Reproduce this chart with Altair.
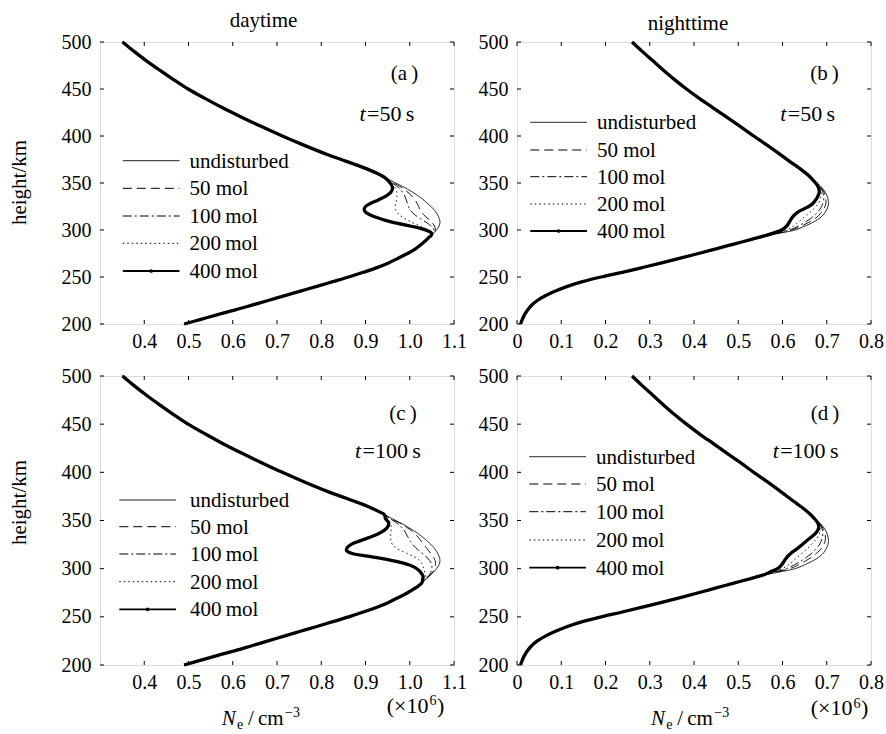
import altair as alt
import pandas as pd

FONT = "Liberation Serif"
INK = "#000000"
FRAME = "#000000"

SERIES = ["undisturbed", "50 mol", "100\u2009mol", "200\u2009mol", "400\u2009mol"]
DASHES = [[1, 0], [9, 5], [9, 3, 2, 3], [1.5, 3]]

Y_TICKS = [200, 250, 300, 350, 400, 450, 500]
X_TICKS_DAY = [0.4, 0.5, 0.6, 0.7, 0.8, 0.9, 1.0, 1.1]
X_TICKS_NIGHT = [0.0, 0.1, 0.2, 0.3, 0.4, 0.5, 0.6, 0.7, 0.8]

# ---------------- daytime profile (x 1e6 cm^-3) ----------------
DAY_UP_H = [500, 490, 480, 470, 460, 450, 440, 430, 420, 410, 400, 390, 380, 375, 370, 365, 360, 356]
DAY_UP_V = [0.351, 0.377, 0.405, 0.435, 0.466, 0.499, 0.537, 0.577, 0.620, 0.665, 0.712, 0.762,
            0.815, 0.845, 0.875, 0.903, 0.927, 0.943]
DAY_MID_H = [352, 348, 344, 340, 336, 332, 328, 325, 322, 319, 316, 313, 310, 307, 304, 301, 298,
             296, 294, 292, 290, 288]
DAY_UNDIST = [0.960, 0.977, 0.993, 1.007, 1.020, 1.031, 1.041, 1.048, 1.054, 1.059, 1.063, 1.066,
              1.068, 1.068, 1.066, 1.062, 1.057, 1.053, 1.048, 1.044, 1.039, 1.034]
A_50 = [0.957, 0.972, 0.985, 0.996, 1.005, 1.012, 1.017, 1.020, 1.023, 1.027, 1.032, 1.039, 1.046,
        1.052, 1.056, 1.058, 1.056, 1.053, 1.048, 1.044, 1.039, 1.034]
A_100 = [0.955, 0.967, 0.977, 0.984, 0.989, 0.992, 0.995, 0.997, 1.000, 1.005, 1.012, 1.021, 1.031,
         1.041, 1.049, 1.054, 1.054, 1.051, 1.047, 1.043, 1.039, 1.034]
A_200 = [0.953, 0.962, 0.968, 0.971, 0.971, 0.970, 0.968, 0.967, 0.968, 0.971, 0.977, 0.986, 0.997,
         1.010, 1.024, 1.038, 1.048, 1.050, 1.047, 1.043, 1.039, 1.034]
A_400 = [0.952, 0.959, 0.961, 0.957, 0.946, 0.929, 0.910, 0.900, 0.897, 0.900, 0.911, 0.927, 0.947,
         0.973, 1.003, 1.030, 1.046, 1.050, 1.048, 1.043, 1.039, 1.034]
C_50 = [0.957, 0.975, 0.990, 1.002, 1.012, 1.020, 1.027, 1.032, 1.037, 1.042, 1.047, 1.052, 1.056,
        1.058, 1.058, 1.057, 1.054, 1.051, 1.047, 1.043, 1.039, 1.034]
C_100 = [0.955, 0.969, 0.979, 0.987, 0.992, 0.997, 1.002, 1.007, 1.013, 1.020, 1.028, 1.036, 1.042,
         1.047, 1.050, 1.050, 1.049, 1.047, 1.045, 1.041, 1.038, 1.034]
C_200 = [0.950, 0.956, 0.958, 0.958, 0.957, 0.957, 0.958, 0.961, 0.968, 0.979, 0.993, 1.007, 1.018,
         1.025, 1.029, 1.031, 1.033, 1.034, 1.035, 1.036, 1.036, 1.034]
C_400 = [0.945, 0.952, 0.951, 0.943, 0.928, 0.906, 0.882, 0.867, 0.859, 0.857, 0.868, 0.905, 0.945,
         0.975, 0.998, 1.012, 1.021, 1.025, 1.028, 1.030, 1.030, 1.029]
DAY_LOW_H = [285, 280, 275, 270, 265, 260, 255, 250, 245, 240, 235, 230, 225, 220, 215, 210, 205, 200]
DAY_LOW_V = [1.027, 1.013, 0.995, 0.974, 0.952, 0.926, 0.895, 0.862, 0.826, 0.790, 0.753, 0.716,
             0.680, 0.643, 0.606, 0.566, 0.528, 0.490]

# ---------------- nighttime profile ----------------
NIGHT_UP_H = [500, 490, 480, 470, 460, 450, 440, 430, 420, 410, 400, 390, 380, 370, 364, 358]
NIGHT_UP_V = [0.260, 0.283, 0.307, 0.331, 0.356, 0.383, 0.412, 0.443, 0.474, 0.505, 0.535, 0.566,
              0.596, 0.625, 0.643, 0.659]
NIGHT_MID_H = [352, 348, 344, 340, 336, 332, 328, 324, 320, 316, 312, 308, 304, 300, 297, 294]
NIGHT_UNDIST = [0.673, 0.683, 0.691, 0.697, 0.701, 0.703, 0.704, 0.702, 0.698, 0.692, 0.682, 0.668,
                0.650, 0.628, 0.598, 0.565]
B_50 = [0.673, 0.682, 0.689, 0.694, 0.697, 0.698, 0.698, 0.695, 0.690, 0.683, 0.673, 0.659, 0.642,
        0.621, 0.594, 0.564]
B_100 = [0.672, 0.681, 0.687, 0.691, 0.693, 0.693, 0.691, 0.687, 0.681, 0.673, 0.663, 0.650, 0.635,
         0.616, 0.591, 0.563]
B_200 = [0.672, 0.680, 0.685, 0.687, 0.687, 0.685, 0.681, 0.674, 0.665, 0.655, 0.645, 0.635, 0.624,
         0.609, 0.587, 0.562]
B_400 = [0.671, 0.678, 0.682, 0.683, 0.680, 0.675, 0.668, 0.655, 0.638, 0.627, 0.620, 0.615, 0.609,
         0.598, 0.581, 0.561]
D_50 = [0.673, 0.682, 0.689, 0.693, 0.696, 0.697, 0.696, 0.692, 0.686, 0.677, 0.666, 0.652, 0.636,
        0.617, 0.592, 0.564]
D_100 = [0.673, 0.681, 0.687, 0.690, 0.691, 0.690, 0.687, 0.682, 0.675, 0.666, 0.655, 0.642, 0.627,
         0.609, 0.587, 0.563]
D_200 = [0.672, 0.680, 0.684, 0.685, 0.683, 0.678, 0.671, 0.663, 0.654, 0.644, 0.634, 0.624, 0.614,
         0.600, 0.582, 0.562]
D_400 = [0.672, 0.679, 0.682, 0.680, 0.673, 0.663, 0.652, 0.642, 0.631, 0.619, 0.610, 0.604, 0.598,
         0.589, 0.574, 0.560]
NIGHT_LOW_H = [290, 285, 280, 275, 270, 265, 260, 255, 250, 245, 240, 235, 230, 225, 220, 215, 210,
               205, 200]
NIGHT_LOW_V = [0.530, 0.490, 0.450, 0.410, 0.369, 0.327, 0.283, 0.238, 0.190, 0.148, 0.114, 0.087,
               0.064, 0.046, 0.033, 0.024, 0.017, 0.012, 0.008]

W = 354
H_TOP = 282
H_BOT = 289
DUMMY = pd.DataFrame({"k": [0]})


def build_df(up_h, up_v, mid_h, mids, low_h, low_v):
    rows = []
    hs = up_h + mid_h + low_h
    for s, mv in zip(SERIES, mids):
        vs = up_v + mv + low_v
        for i, (h, v) in enumerate(zip(hs, vs)):
            rows.append({"series": s, "i": i, "h": h, "v": v})
    return pd.DataFrame(rows)


def txt(s, x, y, size=21, style="normal", align="left", baseline="alphabetic", angle=0):
    return alt.Chart(pd.DataFrame({"t": [s]})).mark_text(
        font=FONT, fontSize=size, fontStyle=style, align=align, baseline=baseline,
        angle=angle, color=INK
    ).encode(text="t:N", x=alt.value(x), y=alt.value(y))


def anchor(x, y):
    return alt.Chart(DUMMY).mark_rule(opacity=0, strokeWidth=1).encode(
        x=alt.value(x), x2=alt.value(x), y=alt.value(y), y2=alt.value(y + 1.5))


def panel(df, xdom, xticks, H, cfg):
    xs = alt.Scale(domain=xdom, nice=False, zero=False)
    ys = alt.Scale(domain=[200, 500], nice=False, zero=False)
    xaxis = alt.Axis(values=xticks, labelExpr="datum.value == 0 ? '0' : format(datum.value, '.1f')",
                     title=None, ticks=False, domain=False, grid=False, labelFlush=False,
                     labelOverlap=False, labelPadding=7, labelFont=FONT, labelFontSize=20,
                     labelColor=INK)
    yaxis = alt.Axis(values=Y_TICKS, format="d", title=None, ticks=False, domain=False, grid=False,
                     labelFlush=False, labelOverlap=False, labelPadding=9, labelFont=FONT,
                     labelFontSize=20, labelColor=INK)
    X = alt.X("v:Q", scale=xs, axis=xaxis)
    Y = alt.Y("h:Q", scale=ys, axis=yaxis)
    thin = alt.Chart(df).transform_filter(alt.datum.series != SERIES[4]).mark_line(
        strokeWidth=0.9, color=INK, interpolate="catmull-rom"
    ).encode(
        x=X, y=Y,
        strokeDash=alt.StrokeDash("series:N", scale=alt.Scale(domain=SERIES[:4], range=DASHES),
                                  legend=None),
        order=alt.Order("i:Q"),
    )
    bold = alt.Chart(df).transform_filter(alt.datum.series == SERIES[4]).mark_line(
        strokeWidth=3.3, color=INK, interpolate="catmull-rom"
    ).encode(x=X, y=Y, order=alt.Order("i:Q"))
    tx = pd.DataFrame({"v": xticks})
    ty = pd.DataFrame({"h": Y_TICKS})
    tk = dict(color=FRAME, strokeWidth=1)
    ticks = [
        alt.Chart(tx).mark_rule(**tk).encode(x=X, y=alt.value(H), y2=alt.value(H - 4)),
        alt.Chart(tx).mark_rule(**tk).encode(x=X, y=alt.value(0), y2=alt.value(4)),
        alt.Chart(ty).mark_rule(**tk).encode(y=Y, x=alt.value(0), x2=alt.value(4)),
        alt.Chart(ty).mark_rule(**tk).encode(y=Y, x=alt.value(W), x2=alt.value(W - 4)),
    ]
    layers = [thin, bold] + ticks

    # legend
    x0, x1, xt = cfg["leg_x"]
    for k, (s, yy) in enumerate(zip(SERIES, cfg["leg_y"])):
        dash = DASHES[k] if k < 4 else [1, 0]
        sw = 1.0 if k < 4 else 1.8
        layers.append(alt.Chart(DUMMY).mark_rule(color=INK, strokeWidth=sw, strokeDash=dash).encode(
            x=alt.value(x0), x2=alt.value(x1), y=alt.value(yy)))
        layers.append(txt(s, xt, yy + 7, size=21))
    layers.append(alt.Chart(DUMMY).mark_point(filled=True, color=INK, size=14, opacity=1).encode(
        x=alt.value((x0 + x1) / 2), y=alt.value(cfg["leg_y"][4])))

    # panel letter and time
    lx, ly = cfg["letter"]
    layers.append(txt(cfg["letter_text"], lx, ly, size=21, align="center"))
    tx0, ty0 = cfg["time"]
    layers.append(txt("t", tx0, ty0, size=22, style="italic"))
    layers.append(txt(cfg["time_text"], tx0 + 7.5, ty0, size=22))

    if "title" in cfg:
        t, cx, cy = cfg["title"]
        layers.append(txt(t, cx, cy, size=21, align="center"))
    if "ytitle" in cfg:
        cx, cy = cfg["ytitle"]
        layers.append(txt("height/km", cx, cy, size=21, align="center", baseline="middle", angle=270))
    if "unit" in cfg:
        ux, uy = cfg["unit"]
        layers.append(txt("(\u00d710", ux, uy, size=22, align="right"))
        layers.append(txt("6", ux + 1, uy - 7.5, size=14))
        layers.append(txt(")", ux + 8.5, uy, size=22))
    if "ne" in cfg:
        nx, ny = cfg["ne"]
        layers.append(txt("N", nx, ny, size=21, style="italic"))
        layers.append(txt("e", nx + 15.3, ny + 4, size=14))
        layers.append(txt("/", nx + 26.3, ny, size=21))
        layers.append(txt("cm", nx + 36.3, ny, size=21))
        layers.append(txt("\u22123", nx + 63.3, ny - 8, size=14))
    for ax, ay in cfg.get("anchors", []):
        layers.append(anchor(ax, ay))

    return alt.layer(*layers).properties(width=W, height=H)


df_a = build_df(DAY_UP_H, DAY_UP_V, DAY_MID_H, [DAY_UNDIST, A_50, A_100, A_200, A_400], DAY_LOW_H, DAY_LOW_V)
df_c = build_df(DAY_UP_H, DAY_UP_V, DAY_MID_H, [DAY_UNDIST, C_50, C_100, C_200, C_400], DAY_LOW_H, DAY_LOW_V)
df_b = build_df(NIGHT_UP_H, NIGHT_UP_V, NIGHT_MID_H, [NIGHT_UNDIST, B_50, B_100, B_200, B_400], NIGHT_LOW_H, NIGHT_LOW_V)
df_d = build_df(NIGHT_UP_H, NIGHT_UP_V, NIGHT_MID_H, [NIGHT_UNDIST, D_50, D_100, D_200, D_400], NIGHT_LOW_H, NIGHT_LOW_V)

pa = panel(df_a, [0.3, 1.1], X_TICKS_DAY, H_TOP, {
    "leg_x": (22.8, 79.5, 89.5), "leg_y": [118.7, 146.3, 174, 201.3, 229],
    "letter": (304.5, 38), "letter_text": "(a\u2009)",
    "time": (259.5, 79), "time_text": "=50\u2009s",
    "title": ("daytime", 163.5, -15), "ytitle": (-80.5, 140.5),
    "anchors": [(-99, -41.5)],
})
pb = panel(df_b, [0.0, 0.8], X_TICKS_NIGHT, H_TOP, {
    "leg_x": (13.3, 70, 80), "leg_y": [80.3, 108, 134.7, 162, 189],
    "letter": (307.5, 38), "letter_text": "(b\u2009)",
    "time": (263.3, 79), "time_text": "=50\u2009s",
    "title": ("nighttime", 171, -12.5),
})
pc = panel(df_c, [0.3, 1.1], X_TICKS_DAY, H_BOT, {
    "leg_x": (19.3, 76, 90), "leg_y": [124, 150.7, 178, 205.7, 233.3],
    "letter": (303, 44), "letter_text": "(c\u2009)",
    "time": (255, 82), "time_text": "=100\u2009s",
    "ytitle": (-80.5, 126.5), "unit": (328.4, 336.5), "ne": (121.7, 349),
})
pd_ = panel(df_d, [0.0, 0.8], X_TICKS_NIGHT, H_BOT, {
    "leg_x": (12.3, 69, 79), "leg_y": [80.7, 108, 135.7, 164, 191.7],
    "letter": (308, 44), "letter_text": "(d\u2009)",
    "time": (255.7, 82), "time_text": "=100\u2009s",
    "unit": (335.5, 339), "ne": (134, 349),
})

chart = alt.concat(
    pa, pb, pc, pd_, columns=2, spacing={"row": 52, "column": 63}, bounds="flush"
).properties(padding=0).configure_view(stroke=FRAME, strokeWidth=1).configure(background="white")

chart.save("out.html", embed_options={"renderer": "svg", "actions": False})
